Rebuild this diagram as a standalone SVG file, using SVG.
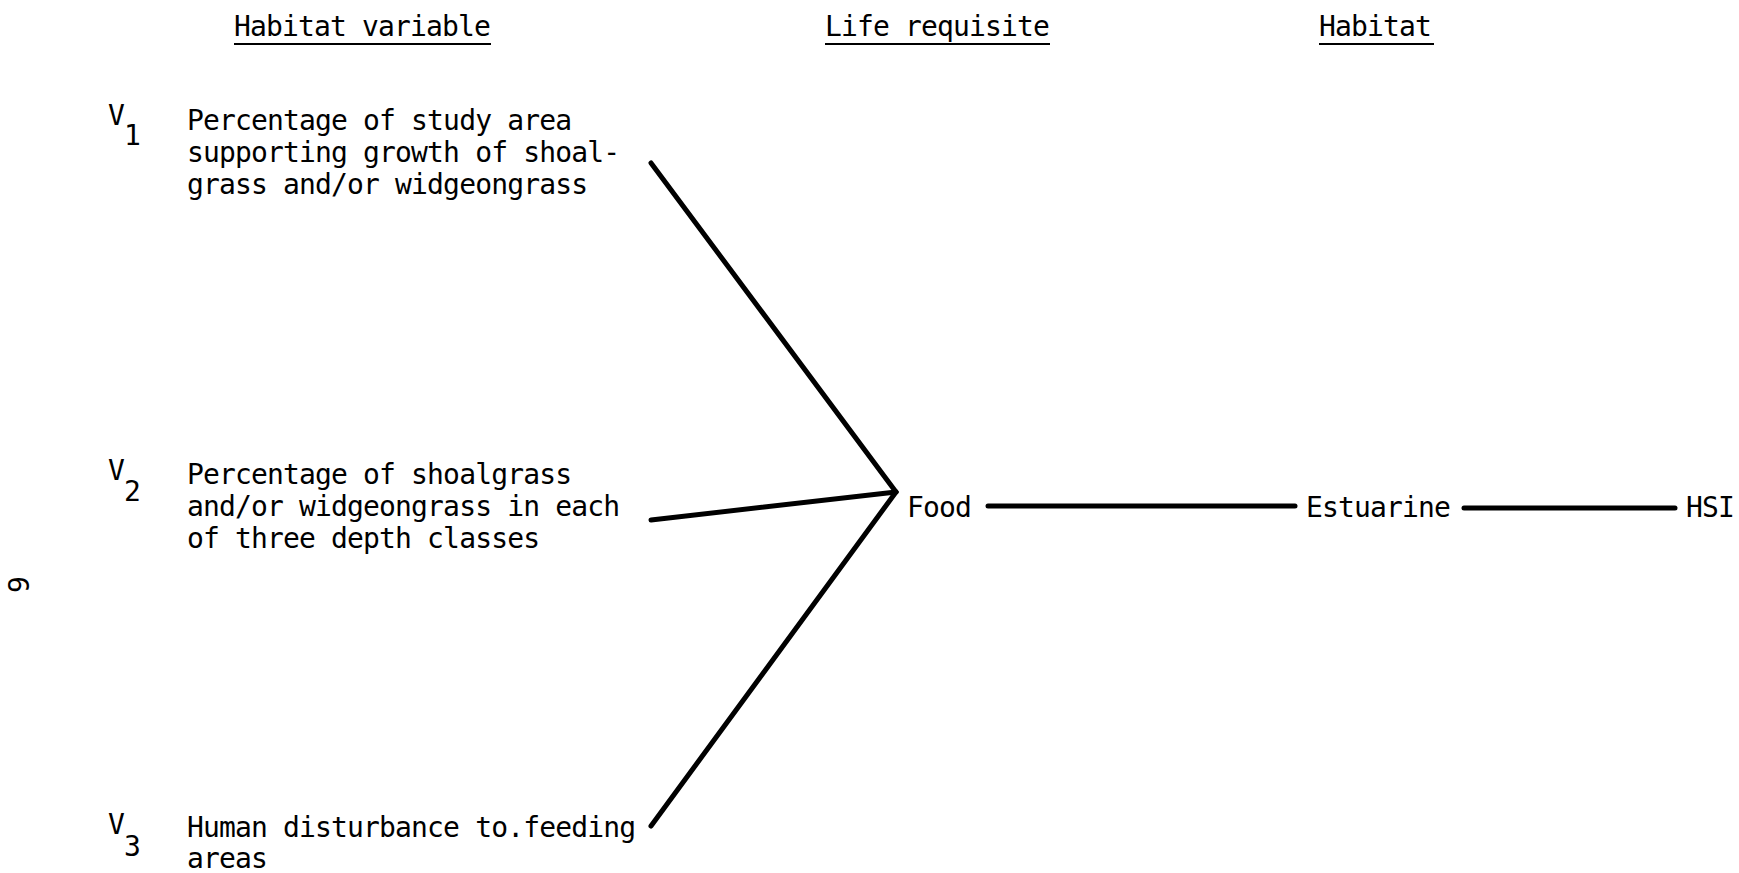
<svg xmlns="http://www.w3.org/2000/svg" width="1739" height="873" viewBox="0 0 1739 873">
<style>
text{font-family:"DejaVu Sans Mono","Liberation Mono",monospace;font-size:28px;letter-spacing:-0.85px;fill:#000}
.ul{stroke:#000;stroke-width:2}
.c{stroke:#000;stroke-width:5;fill:none;stroke-linecap:round}
</style>
<rect width="1739" height="873" fill="#fff"/>
<g id="headers">
<text x="234" y="36">Habitat variable</text>
<line class="ul" x1="234" y1="44" x2="491" y2="44"/>
<text x="825" y="36">Life requisite</text>
<line class="ul" x1="825" y1="44" x2="1050" y2="44"/>
<text x="1319" y="36">Habitat</text>
<line class="ul" x1="1319" y1="44" x2="1434" y2="44"/>
</g>
<g id="v1">
<text x="108" y="125">V</text><text x="124" y="145">1</text>
<text x="187" y="130">Percentage of study area</text>
<text x="187" y="162">supporting growth of shoal-</text>
<text x="187" y="194">grass and/or widgeongrass</text>
</g>
<g id="v2">
<text x="108" y="480">V</text><text x="124" y="501">2</text>
<text x="187" y="484">Percentage of shoalgrass</text>
<text x="187" y="516">and/or widgeongrass in each</text>
<text x="187" y="548">of three depth classes</text>
</g>
<g id="v3">
<text x="108" y="834">V</text><text x="124" y="856">3</text>
<text x="187" y="837">Human disturbance to.feeding</text>
<text x="187" y="868">areas</text>
</g>
<g id="food"><text x="907" y="517">Food</text></g>
<g id="estuarine"><text x="1306" y="517">Estuarine</text></g>
<g id="hsi"><text x="1686" y="517">HSI</text></g>
<g id="page"><text transform="translate(29,585) rotate(-90)" text-anchor="middle" font-size="22">9</text></g>
<g id="connectors">
<line class="c" x1="651" y1="163" x2="896" y2="492"/>
<line class="c" x1="651" y1="520" x2="896" y2="492"/>
<line class="c" x1="651" y1="826" x2="896" y2="492"/>
<line class="c" x1="988" y1="506" x2="1295" y2="506"/>
<line class="c" x1="1464" y1="508" x2="1675" y2="508"/>
</g>
</svg>
